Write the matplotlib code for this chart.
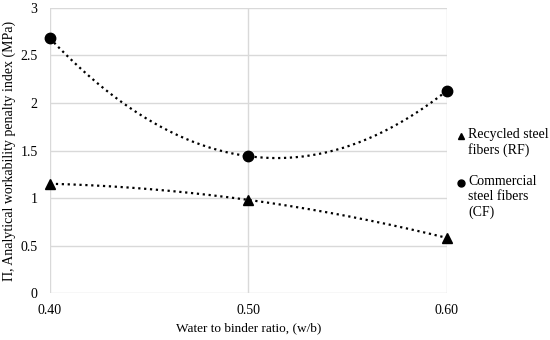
import matplotlib
matplotlib.use("Agg")
import matplotlib.pyplot as plt
import numpy as np

plt.rcParams['font.family'] = ['Liberation Serif', 'DejaVu Serif']

# data
wb = [0.40, 0.50, 0.60]
rf = [1.15, 0.98, 0.58]
cf = [2.68, 1.44, 2.13]
xticklabels = ["0.40", "0.50", "0.60"]
yticks = [0, 0.5, 1, 1.5, 2, 2.5, 3]
yticklabels = ["0", "0.5", "1", "1.5", "2", "2.5", "3"]
names = ["Recycled steel\nfibers (RF)", "Commercial\nsteel fibers\n(CF)"]

fig = plt.figure(figsize=(5.5, 3.4), dpi=100)
ax = fig.add_axes([0.0909, 0.1382, 0.7218, 0.8383])

# 2nd order polynomial trendlines (as in the spreadsheet)
xs = np.linspace(wb[0], wb[-1], 200)
prf = np.polyfit(wb, rf, 2)
pcf = np.polyfit(wb, cf, 2)
ax.plot(xs, np.polyval(prf, xs), color="black", linestyle=":", linewidth=1.6, zorder=2)
ax.plot(xs, np.polyval(pcf, xs), color="black", linestyle=":", linewidth=1.6, zorder=2)

ax.plot(wb, rf, linestyle="none", marker="^", markersize=7.5, color="black",
        zorder=3, clip_on=False)
ax.plot(wb, cf, linestyle="none", marker="o", markersize=7.5, color="black",
        zorder=3, clip_on=False)

ax.set_xlim(0.40, 0.60)
ax.set_ylim(0, 3)
ax.set_xticks(wb)
ax.set_xticklabels(xticklabels)
ax.set_yticks(yticks)
ax.set_yticklabels(yticklabels)
ax.tick_params(length=0, labelsize=10)
ax.tick_params(axis="x", pad=8)
ax.tick_params(axis="y", pad=9)
ax.grid(True, color="#d9d9d9", linewidth=1, zorder=0)
ax.set_axisbelow(True)
for s in ax.spines.values():
    s.set_visible(False)

ax.set_xlabel("Water to binder ratio, (w/b)", fontsize=9.5, labelpad=4)
ax.set_ylabel("\u03a0, Analytical workability penalty index (MPa)", fontsize=10, labelpad=3)

# legend drawn by hand: marker aligned with the first text line
markers = ["^", "o"]
rows = [136, 183]  # pixel rows of the first text line
for m, name, py in zip(markers, names, rows):
    fig.lines.append(plt.Line2D([461 / 550], [1 - py / 340], marker=m, markersize=5,
                                color="black", linestyle="none",
                                transform=fig.transFigure))
    fig.text(468 / 550, 1 - (py - 8) / 340, name, fontsize=10, ha="left", va="top",
             linespacing=1.2, transform=fig.transFigure)

fig.savefig("out.png", dpi=100)
